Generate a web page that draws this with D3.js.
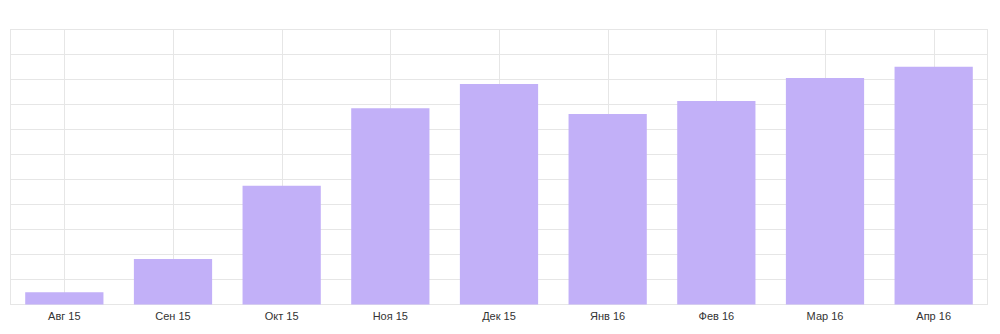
<!DOCTYPE html>
<html>
<head>
<meta charset="utf-8">
<script src="https://cdn.jsdelivr.net/npm/d3@7"></script>
<style>
  html, body { margin: 0; padding: 0; background: #fff; }
  svg { display: block; }
  .lbl { font-family: Arial, "Liberation Sans", sans-serif; font-size: 11px; fill: #333; }
</style>
</head>
<body>
<svg width="1000" height="334"></svg>
<script>
// months shown on the x axis
const months = ["Авг 15", "Сен 15", "Окт 15", "Ноя 15", "Дек 15", "Янв 16", "Фев 16", "Мар 16", "Апр 16"];
// bar values (no y labels in the picture, read in grid units of 100)
const values = [49, 182, 475, 785, 882, 762, 814, 906, 951];
// horizontal grid levels
const gridTicks = [0, 100, 200, 300, 400, 500, 600, 700, 800, 900, 1000, 1100];

var svg = d3.select("svg");

// plot box (note: "top" would clash with window.top)
var plotL = 10, plotR = 988, plotT = 29.5, plotB = 304.5;

var x = d3.scaleBand()
    .domain(months)
    .range([plotL, plotR])
    .paddingInner(0.28)
    .paddingOuter(0.14);

var y = d3.scaleLinear()
    .domain([0, 1100])
    .range([plotB, plotT]);

var grid = svg.append("g").attr("class", "grid");

grid.selectAll("line.h")
    .data(gridTicks)
    .enter().append("line")
    .attr("class", "h")
    .attr("x1", plotL)
    .attr("x2", plotR)
    .attr("y1", d => y(d))
    .attr("y2", d => y(d))
    .attr("stroke", "#e6e6e6")
    .attr("stroke-width", 1);

// vertical lines at category centres
grid.selectAll("line.v")
    .data(months)
    .enter().append("line")
    .attr("class", "v")
    .attr("x1", d => Math.round(x(d) + x.bandwidth() / 2) + 0.5)
    .attr("x2", d => Math.round(x(d) + x.bandwidth() / 2) + 0.5)
    .attr("y1", plotT)
    .attr("y2", plotB)
    .attr("stroke", "#e6e6e6");

grid.append("rect")
    .attr("x", plotL + 0.5)
    .attr("y", plotT)
    .attr("width", plotR - plotL - 1)
    .attr("height", plotB - plotT)
    .attr("fill", "none")
    .attr("stroke", "#e6e6e6");

svg.append("g")
    .selectAll("rect")
    .data(values)
    .enter().append("rect")
    .attr("x", (d, i) => x(months[i]))
    .attr("width", x.bandwidth())
    .attr("y", d => y(d))
    .attr("height", d => y(0) - y(d))
    .attr("fill", "#c2b0f8");

var xAxis = svg.append("g")
    .attr("transform", "translate(0," + plotB + ")")
    .call(d3.axisBottom(x).tickSize(0).tickPadding(8));

xAxis.select(".domain").remove();
xAxis.selectAll("text")
    .attr("class", "lbl")
    .attr("fill", null)
    .style("font-family", null)
    .style("font-size", null);
</script>
</body>
</html>
